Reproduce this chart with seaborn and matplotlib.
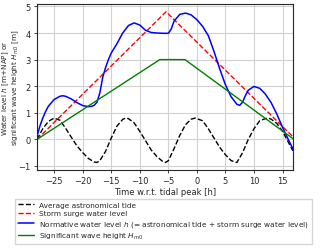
import seaborn as sns
import matplotlib.pyplot as plt

# average astronomical tide
tide_t = [-28, -27, -26, -25, -24, -23, -22, -21, -20, -19, -18, -17.5, -17, -16, -15, -14, -13,
          -12.5, -12, -11, -10, -9, -8, -7, -6, -5.5, -5, -4, -3, -2, -1, -0.3, 1, 2, 3, 4, 5, 6,
          7, 8, 9, 10, 11, 12, 12.5, 13, 14, 15, 16, 16.8]
tide_h = [0.0, 0.4, 0.68, 0.8, 0.72, 0.42, 0.08, -0.25, -0.5, -0.72, -0.85, -0.87, -0.8, -0.45,
          0.05, 0.5, 0.75, 0.8, 0.78, 0.62, 0.3, -0.05, -0.4, -0.65, -0.83, -0.87, -0.8, -0.35,
          0.15, 0.55, 0.76, 0.8, 0.7, 0.4, 0.05, -0.3, -0.58, -0.8, -0.87, -0.5, 0.0, 0.4, 0.7,
          0.78, 0.8, 0.76, 0.6, 0.3, -0.1, -0.43]

# storm surge water level
surge_t = [-28, -5.4, 16.8]
surge_h = [0.0, 4.8, 0.1]

# normative water level
norm_t = [-28, -27.5, -27, -26.5, -26, -25, -24, -23.5, -23, -22, -21, -20, -19, -18.5, -18,
          -17.5, -17, -16.5, -16, -15.5, -15, -14, -13, -12, -11, -10, -9, -8, -7, -6, -5,
          -4.5, -4, -3, -2, -1, 0, 1, 2, 3, 4, 5, 6, 7, 7.5, 8, 8.5, 9, 10, 11, 12, 13, 14,
          15, 16, 16.8]
norm_h = [0.12, 0.5, 0.8, 1.05, 1.25, 1.5, 1.62, 1.64, 1.62, 1.52, 1.38, 1.27, 1.23, 1.24,
          1.28, 1.4, 1.75, 2.33, 2.7, 3.0, 3.25, 3.6, 4.0, 4.28, 4.38, 4.3, 4.1, 4.02, 4.0,
          3.99, 3.99, 4.15, 4.45, 4.7, 4.75, 4.68, 4.5, 4.25, 3.9, 3.3, 2.65, 2.05, 1.6, 1.32,
          1.28, 1.4, 1.65, 1.85, 1.99, 1.92, 1.7, 1.38, 0.95, 0.45, 0.0, -0.35]

# significant wave height
wave_t = [-28, -6.5, -2.1, 17]
wave_h = [0.0, 3.0, 3.0, 0.0]

labels = ["Average astronomical tide",
          "Storm surge water level",
          "Normative water level $h$ (= astronomical tide + storm surge water level)",
          "Significant wave height $H_{m0}$"]

sns.set_style("whitegrid", {"axes.edgecolor": "0.15", "grid.color": "0.82",
                            "xtick.bottom": True, "ytick.left": True})
plt.rcParams['font.family'] = ['DejaVu Sans']

fig = plt.figure(figsize=(3.25, 2.51), dpi=100)
ax = fig.add_axes([0.114, 0.319, 0.787, 0.662])

sns.lineplot(x=tide_t, y=tide_h, ax=ax, color="k", linestyle="--", lw=1.0, label=labels[0])
sns.lineplot(x=surge_t, y=surge_h, ax=ax, color="r", linestyle="--", lw=1.0, label=labels[1])
sns.lineplot(x=norm_t, y=norm_h, ax=ax, color="b", lw=1.1, label=labels[2])
sns.lineplot(x=wave_t, y=wave_h, ax=ax, color="g", lw=1.0, label=labels[3])

ax.set_xlim(-28, 16.8)
ax.set_ylim(-1.15, 5.1)
ax.set_xticks([-25, -20, -15, -10, -5, 0, 5, 10, 15])
ax.set_yticks([-1, 0, 1, 2, 3, 4, 5])
ax.tick_params(labelsize=6, length=2.5, width=0.6, pad=2)
for s in ax.spines.values():
    s.set_linewidth(0.8)
ax.grid(True, lw=0.8)

ax.set_xlabel("Time w.r.t. tidal peak [h]", fontsize=6, labelpad=1.5)
ax.set_ylabel("Water level $h$ [m+NAP] or\nsignificant wave height $H_{m0}$ [m]",
              fontsize=5.2, linespacing=1.0)
ax.yaxis.set_label_coords(-0.062, 0.5)

handles, labs = ax.get_legend_handles_labels()
ax.get_legend().remove()
fig.legend(handles, labs, loc="upper left", bbox_to_anchor=(0.035, 0.218),
           fontsize=5.3, labelspacing=0.3, handlelength=2.2, handletextpad=0.7,
           borderpad=0.4, frameon=True, fancybox=False, edgecolor="0.8")

fig.savefig("out.png", dpi=100)
